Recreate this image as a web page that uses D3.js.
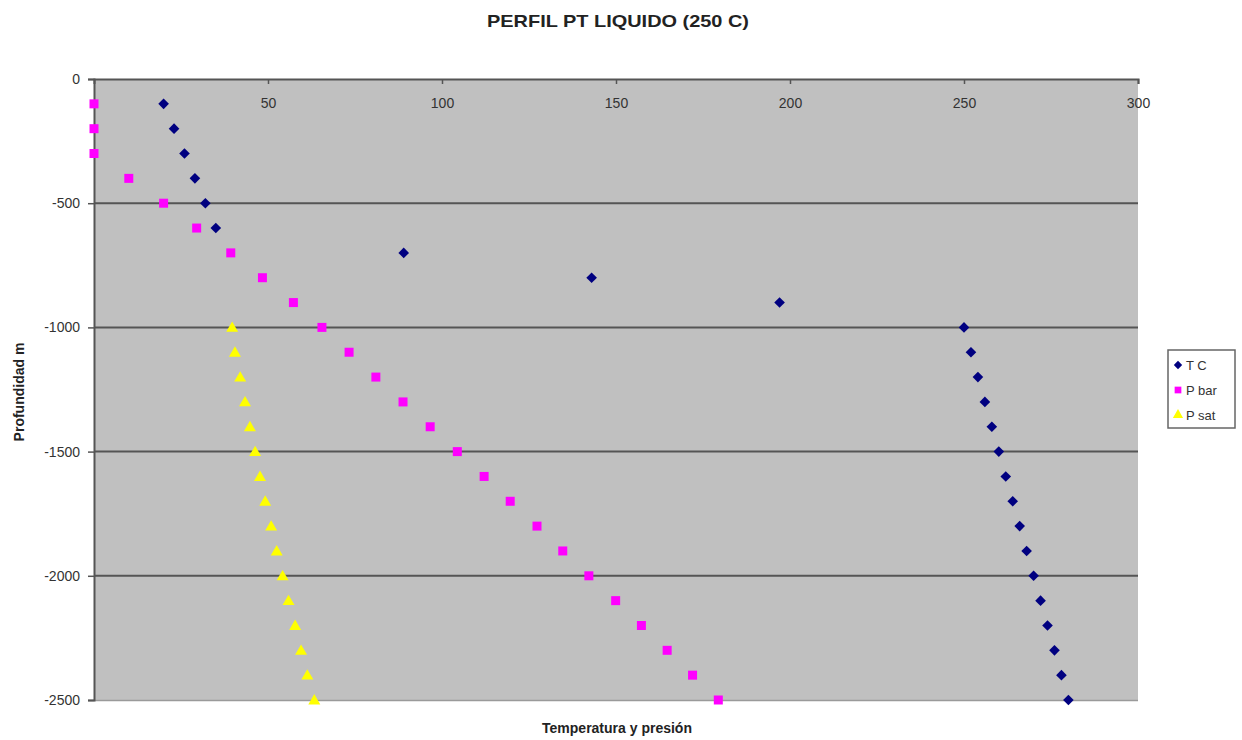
<!DOCTYPE html>
<html>
<head>
<meta charset="utf-8">
<script src="https://cdn.jsdelivr.net/npm/d3@7"></script>
<style>
  body { margin: 0; background: #fff; }
  svg { font-family: Arial, "Liberation Sans", sans-serif; }
</style>
</head>
<body>
<svg id="chart" width="1242" height="740"></svg>
<script>
// depth (m)
var depths = [-100, -200, -300, -400, -500, -600, -700, -800, -900, -1000,
              -1100, -1200, -1300, -1400, -1500, -1600, -1700, -1800, -1900, -2000,
              -2100, -2200, -2300, -2400, -2500];

var tempC = [20, 23, 26, 29, 32, 35, 89, 143, 197, 250,
             252, 254, 256, 258, 260, 262, 264, 266, 268, 270,
             272, 274, 276, 278, 280];

var pBar = [0, 0, 0, 10, 20, 29.5, 39.3, 48.4, 57.3, 65.5,
            73.3, 81, 88.8, 96.6, 104.4, 112.1, 119.6, 127.3, 134.7, 142.2,
            149.9, 157.3, 164.7, 172, 179.4];

// P sat only from -1000 down
var satDepths = [-1000, -1100, -1200, -1300, -1400, -1500, -1600, -1700,
                 -1800, -1900, -2000, -2100, -2200, -2300, -2400, -2500];
var pSat = [39.7, 40.5, 42, 43.4, 44.8, 46.3, 47.7, 49.2,
            50.9, 52.5, 54.2, 55.9, 57.8, 59.5, 61.3, 63.3];

var xTicks = [50, 100, 150, 200, 250, 300];
var yTicks = [0, -500, -1000, -1500, -2000, -2500];

function drawChart() {
   var svg = d3.select('#chart');

   var pLeft = 94, pRight = 1138, pTop = 79, pBottom = 700;

   var x = d3.scaleLinear().domain([0, 300]).range([pLeft, pRight]);
   var y = d3.scaleLinear().domain([0, -2500]).range([pTop, pBottom]);

   // plot area
   svg.append('rect')
      .attr('x', pLeft).attr('y', pTop)
      .attr('width', pRight - pLeft).attr('height', pBottom - pTop)
      .attr('fill', '#c0c0c0');

   // grid lines
   svg.append('g').selectAll('line')
      .data([-500, -1000, -1500, -2000])
      .enter().append('line')
      .attr('x1', pLeft).attr('x2', pRight)
      .attr('y1', function(d) { return y(d); })
      .attr('y2', function(d) { return y(d); })
      .attr('stroke', '#555')
      .attr('stroke-width', 2);

   // bottom edge
   svg.append('line')
      .attr('x1', pLeft).attr('x2', pRight)
      .attr('y1', pBottom + 0.5).attr('y2', pBottom + 0.5)
      .attr('stroke', '#9a9a9a').attr('stroke-width', 1.5);

   // y axis
   var yAxis = d3.axisLeft(y).tickValues(yTicks).tickSize(6).tickPadding(8);
   var gy = svg.append('g').attr('transform', 'translate(' + pLeft + ',0)').call(yAxis);
   gy.select('.domain').attr('stroke', '#555').attr('stroke-width', 2);
   gy.selectAll('.tick line').attr('stroke', '#555').attr('stroke-width', 1.5);
   gy.selectAll('.tick text').attr('font-size', 14).attr('fill', '#333')
      .text(function(d) { return String(d); });

   // x axis at top, labels inside the plot
   var xAxis = d3.axisBottom(x).tickValues(xTicks).tickSize(5).tickPadding(14);
   var gx = svg.append('g').attr('transform', 'translate(0,' + pTop + ')').call(xAxis);
   gx.select('.domain').attr('stroke', '#555').attr('stroke-width', 2);
   gx.selectAll('.tick line').attr('stroke', '#555').attr('stroke-width', 1.5);
   gx.selectAll('.tick text').attr('font-size', 14).attr('fill', '#333');

   // markers
   var diamond = d3.symbol().type(d3.symbolDiamond2).size(72);
   var square = d3.symbol().type(d3.symbolSquare).size(81);
   var triangle = d3.symbol().type(d3.symbolTriangle).size(62);

   svg.append('g').selectAll('path')
      .data(depths.map(function(d, i) { return [pBar[i], d]; }))
      .enter().append('path')
      .attr('d', square)
      .attr('transform', function(d) { return 'translate(' + x(d[0]) + ',' + y(d[1]) + ')'; })
      .attr('fill', '#ff00ff');

   svg.append('g').selectAll('path')
      .data(satDepths.map(function(d, i) { return [pSat[i], d]; }))
      .enter().append('path')
      .attr('d', triangle)
      .attr('transform', function(d) { return 'translate(' + x(d[0]) + ',' + (y(d[1]) + 1) + ')'; })
      .attr('fill', '#ffff00');

   svg.append('g').selectAll('path')
      .data(depths.map(function(d, i) { return [tempC[i], d]; }))
      .enter().append('path')
      .attr('d', diamond)
      .attr('transform', function(d) { return 'translate(' + x(d[0]) + ',' + y(d[1]) + ')'; })
      .attr('fill', '#000080');

   // title
   svg.append('text')
      .attr('x', 618).attr('y', 27)
      .attr('text-anchor', 'middle')
      .attr('font-size', 17).attr('font-weight', 'bold')
      .attr('fill', '#222')
      .attr('textLength', 262)
      .attr('lengthAdjust', 'spacingAndGlyphs')
      .text('PERFIL PT LIQUIDO (250 C)');

   // axis titles
   svg.append('text')
      .attr('x', 617).attr('y', 733)
      .attr('text-anchor', 'middle')
      .attr('font-size', 14).attr('font-weight', 'bold')
      .attr('fill', '#222')
      .text('Temperatura y presión');

   svg.append('text')
      .attr('transform', 'translate(24,392) rotate(-90)')
      .attr('text-anchor', 'middle')
      .attr('font-size', 14).attr('font-weight', 'bold')
      .attr('fill', '#222')
      .text('Profundidad m');

   // legend
   var legendItems = [
      { name: 'T C', sym: diamond, color: '#000080' },
      { name: 'P bar', sym: square, color: '#ff00ff' },
      { name: 'P sat', sym: triangle, color: '#ffff00' }
   ];

   var lg = svg.append('g').attr('transform', 'translate(1168,350)');
   lg.append('rect')
      .attr('width', 67).attr('height', 78)
      .attr('fill', '#fff')
      .attr('stroke', '#666').attr('stroke-width', 1.5);

   var li = lg.selectAll('g.item')
      .data(legendItems)
      .enter().append('g')
      .attr('transform', function(d, i) { return 'translate(0,' + (15 + i * 25) + ')'; });

   li.append('path')
      .attr('d', function(d) { return d.sym.size(45)(); })
      .attr('transform', 'translate(10,0)')
      .attr('fill', function(d) { return d.color; });

   li.append('text')
      .attr('x', 18).attr('y', 5)
      .attr('font-size', 13)
      .attr('fill', '#333')
      .text(function(d) { return d.name; });
}

drawChart();
</script>
</body>
</html>
